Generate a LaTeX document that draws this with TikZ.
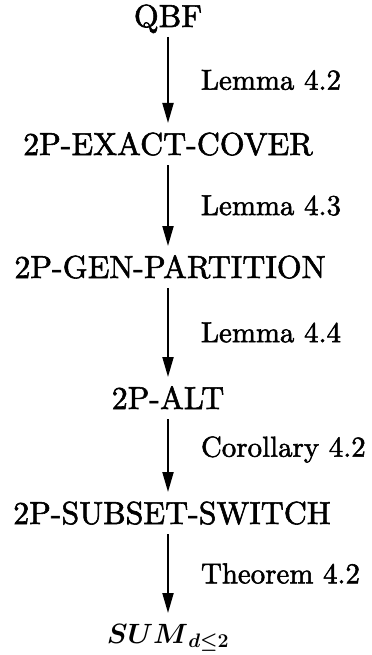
\RequirePackage{fix-cm}
\documentclass[tikz,border=0pt]{standalone}
\usepackage{amsmath}
\usepackage{fontspec}
\setmainfont{lmroman10-regular.otf}[FakeBold=1.8]
\usetikzlibrary{arrows.meta,calc}
\begin{document}
\begin{tikzpicture}[x=1bp,y=-1bp,
  prob/.style={inner sep=0pt,anchor=base,font=\fontsize{32}{38}\selectfont},
  lab/.style={inner sep=0pt,anchor=west,font=\fontsize{29}{34}\selectfont},
  red/.style={line width=2bp,-{Triangle[length=20bp,width=11bp]}}]
\useasboundingbox (0,0) rectangle (371,655);
\node[prob] (qbf) at (168,27) {QBF};
\node[prob] (exc) at (168,155) {2P-EXACT-COVER};
\node[prob] (gen) at (170,278) {2P-GEN-PARTITION};
\node[prob] (alt) at (168,409) {2P-ALT};
\node[prob] (sub) at (172,524) {2P-SUBSET-SWITCH};
\node[prob,font=\fontsize{28}{34}\selectfont] (sum) at (168,643)
  {$\boldsymbol{S}\boldsymbol{U}\boldsymbol{M}_{\boldsymbol{d\le 2}}$};
\coordinate (q) at (168,0);
% each reduction: from 10bp under one baseline to 9bp over the next cap line
\draw[red] ($(qbf.base -| q)+(0,10)$) -- ($(exc.base -| q)+(0,-32)$)
  node[lab,midway,xshift=32bp] {Lemma\ 4.2};
\draw[red] ($(exc.base -| q)+(0,10)$) -- ($(gen.base -| q)+(0,-32)$)
  node[lab,midway,xshift=32bp] {Lemma\ 4.3};
\draw[red] ($(gen.base -| q)+(0,10)$) -- ($(alt.base -| q)+(0,-32)$)
  node[lab,midway,xshift=32bp] {Lemma\ 4.4};
\draw[red] ($(alt.base -| q)+(0,10)$) -- ($(sub.base -| q)+(0,-32)$)
  node[lab,midway,xshift=32bp,yshift=6bp] {Corollary\ 4.2};
\draw[red] ($(sub.base -| q)+(0,10)$) -- ($(sum.base -| q)+(0,-30)$)
  node[lab,midway,xshift=32bp] {Theorem\ 4.2};
\end{tikzpicture}
\end{document}
